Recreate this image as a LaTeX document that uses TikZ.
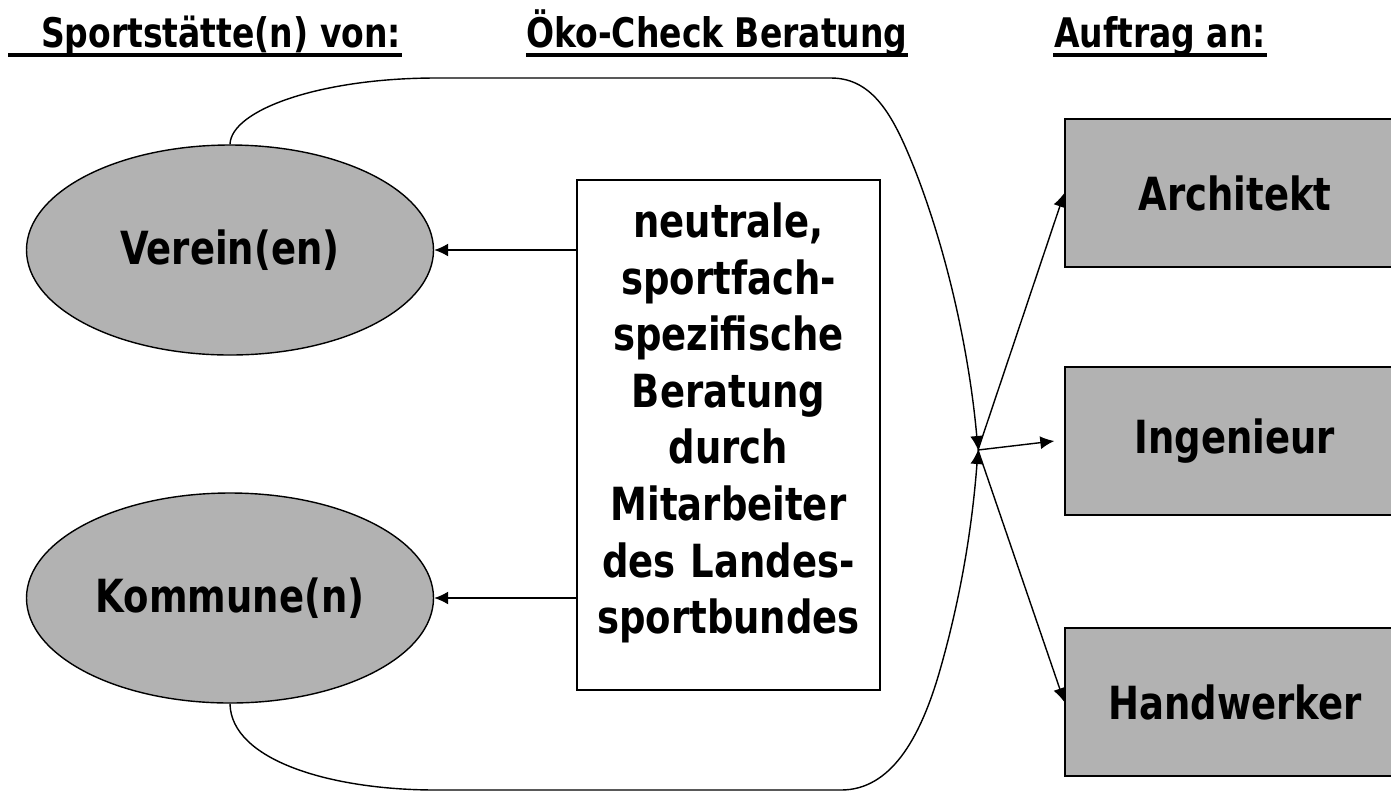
\documentclass[tikz,border=0pt]{standalone}
\usepackage{fontspec}
\setmainfont{DejaVu Sans Condensed}[FakeStretch=0.9]
\usetikzlibrary{arrows.meta,shapes.geometric}
\tikzstyle{traeger}=[draw, ellipse, fill=black!30, minimum width=4.07cm,
  minimum height=2.10cm, inner sep=0pt, font=\fontsize{13pt}{16pt}\selectfont\bfseries]
\tikzstyle{beratung}=[draw, fill=white, minimum width=3.03cm,
  minimum height=5.10cm, inner sep=0pt]
\tikzstyle{beratungtext}=[text width=3.03cm, align=center, inner sep=0pt,
  font=\fontsize{13pt}{16.1pt}\selectfont\bfseries]
\tikzstyle{auftrag}=[draw, fill=black!30, minimum width=3.40cm,
  minimum height=1.48cm, font=\fontsize{13pt}{16pt}\selectfont\bfseries]
\tikzstyle{kopf}=[inner sep=0pt, anchor=base, font=\fontsize{11.6pt}{14pt}\selectfont\bfseries]
\tikzstyle{uline}=[draw, line width=0.9pt]
\tikzstyle{line}=[draw, -{Latex[length=1.4mm,width=1.3mm]}]

\begin{document}
\begin{tikzpicture}
  \useasboundingbox (0,0) rectangle (13.91,-7.93);

  % Kopfzeile
  \path (2.21,-0.47) node (k1) [kopf] {Sportstätte(n) von:};
  \path (7.17,-0.47) node (k2) [kopf] {Öko-Check Beratung};
  \path (11.60,-0.47) node (k3) [kopf] {Auftrag an:};
  \path [uline] ([xshift=-0.32cm,yshift=-0.08cm]k1.base west) -- ([yshift=-0.08cm]k1.base east);
  \path [uline] ([yshift=-0.08cm]k2.base west) -- ([yshift=-0.08cm]k2.base east);
  \path [uline] ([yshift=-0.08cm]k3.base west) -- ([yshift=-0.08cm]k3.base east);

  % Draw diagram elements
  \path (2.30,-2.50) node (v1) [traeger] {Verein(en)};
  \path (v1)+(0.0,-3.48) node (v2) [traeger] {Kommune(n)};
  \path (7.285,-4.35) node (b1) [beratung] {};
  \path (b1.center)+(0.0,0.12) node (t1) [beratungtext] {neutrale,\\ sportfach-\\
    spezifische\\ Beratung\\ durch\\ Mitarbeiter\\ des Landes-\\ sportbundes};
  \path (12.35,-1.93) node (a1) [auftrag] {Architekt};
  \path (a1)+(0.0,-2.48) node (a2) [auftrag] {Ingenieur};
  \path (a2)+(0.0,-2.61) node (a3) [auftrag] {Handwerker};
  \coordinate (j) at (9.78,-4.50);

  % Draw arrows between elements
  \path [line] (b1.west |- v1) -- (v1.east);
  \path [line] (b1.west |- v2) -- (v2.east);

  \path [line] (v1.north) .. controls (2.31,-1.1) and (3.2,-0.78) .. (4.36,-0.78)
    -- (8.31,-0.78) .. controls (8.75,-0.78) and (8.95,-1.2) .. (9.15,-1.7)
    .. controls (9.5,-2.6) and (9.7,-3.6) .. (j);
  \path [line] (v2.south) .. controls (2.31,-7.6) and (3.3,-7.90) .. (4.36,-7.90)
    -- (8.41,-7.90) .. controls (8.9,-7.90) and (9.2,-7.4) .. (9.4,-6.7)
    .. controls (9.6,-6.0) and (9.72,-5.3) .. (j);

  \path [line] (j) -- (a1.west);
  \path [line] (j) -- ([xshift=-0.1cm]a2.west);
  \path [line] (j) -- (a3.west);
\end{tikzpicture}
\end{document}
